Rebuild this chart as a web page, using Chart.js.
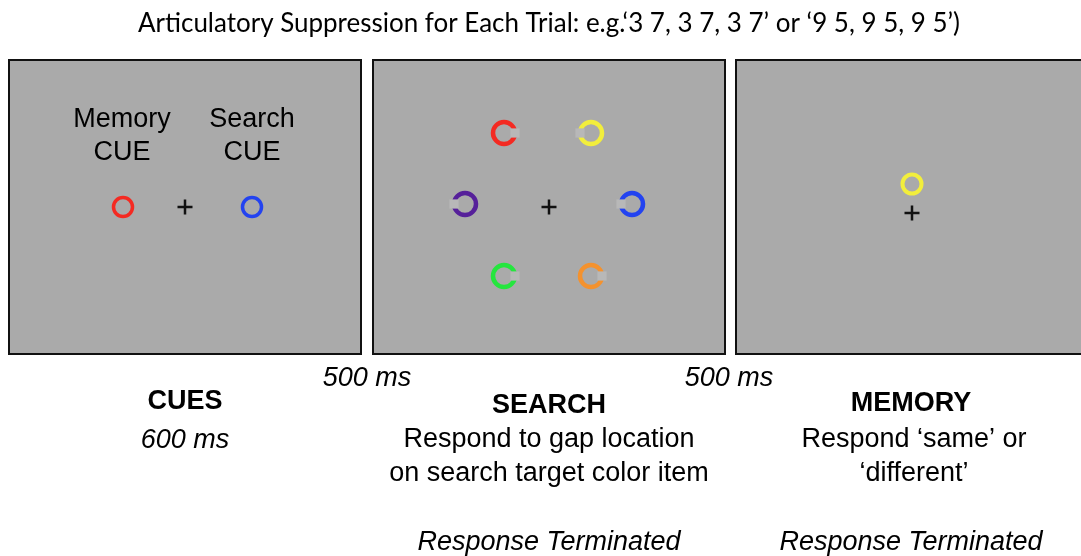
<!DOCTYPE html>
<html>
<head>
<meta charset="utf-8">
<script src="https://cdn.jsdelivr.net/npm/chart.js@4.4.1/dist/chart.umd.min.js"></script>
<style>
  html, body { margin: 0; padding: 0; background: #ffffff; }
  #wrap { width: 1081px; height: 556px; position: relative; }
</style>
</head>
<body>
<div id="wrap"><canvas id="trialChart"></canvas></div>
<script>
// --- data (page pixel units) ---
const stageNames = ['CUES', 'SEARCH', 'MEMORY'];
const panelLeft = [9, 373, 736];
const panelRight = [361, 725, 1095];
const panelTop = 60;
const panelBottom = 354;

const cueX = [123, 252];
const cueY = [207, 207];
const cueColors = ['#f42a22', '#2343f0'];

const searchX = [504, 591, 465, 632, 504, 591];
const searchY = [133, 133, 204, 204, 276, 276];
const searchColors = ['#f42a22', '#f2ee3c', '#56209a', '#2343f0', '#25e63e', '#f4922e'];
const gapSide = [1, -1, -1, -1, 1, 1]; // +1 gap on right, -1 gap on left

const memoryX = [912];
const memoryY = [184];
const memoryColors = ['#f2ee3c'];

const fixX = [185, 549, 912];
const fixY = [207, 207, 213];

const titleText = 'Articulatory Suppression for Each Trial: e.g.\u20183 7, 3 7, 3 7\u2019 or \u20189 5, 9 5, 9 5\u2019)';
const isiLabels = ['500 ms', '500 ms'];
const stageDurations = ['600 ms', '', ''];
const stageTasks = [[], ['Respond to gap location', 'on search target color item'], ['Respond \u2018same\u2019 or', '\u2018different\u2019']];
const stageEnds = ['', 'Response Terminated', 'Response Terminated'];

const pts = (xs, ys) => xs.map((x, i) => ({ x: x, y: ys[i] }));

// panels + all text drawn through the chart's scales
const diagramPlugin = {
    id: 'diagram',
    beforeDatasetsDraw(chart) {
        const { ctx, scales: { x, y } } = chart;
        ctx.save();
        for (let i = 0; i < panelLeft.length; i++) {
            const l = x.getPixelForValue(panelLeft[i]);
            const r = x.getPixelForValue(panelRight[i]);
            const t = y.getPixelForValue(panelTop);
            const b = y.getPixelForValue(panelBottom);
            ctx.fillStyle = '#aaaaaa';
            ctx.fillRect(l, t, r - l, b - t);
            ctx.strokeStyle = '#111111';
            ctx.lineWidth = 2;
            ctx.strokeRect(l, t, r - l, b - t);
        }
        ctx.restore();
    },
    afterDatasetsDraw(chart) {
        const { ctx, scales: { x, y } } = chart;
        const text = (s, vx, vy, font, maxW) => {
            ctx.font = font;
            if (maxW) ctx.fillText(s, x.getPixelForValue(vx), y.getPixelForValue(vy), maxW);
            else ctx.fillText(s, x.getPixelForValue(vx), y.getPixelForValue(vy));
        };
        ctx.save();
        ctx.fillStyle = '#000000';
        ctx.textAlign = 'center';
        ctx.textBaseline = 'middle';

        text(titleText, 549, 24, '26px Lato, "Open Sans", sans-serif', 822);

        // cue labels inside first panel
        const sans = '"Liberation Sans", Arial, Helvetica, sans-serif';
        text('Memory', 122, 120, '27px ' + sans);
        text('CUE', 122, 153, '27px ' + sans);
        text('Search', 252, 120, '27px ' + sans);
        text('CUE', 252, 153, '27px ' + sans);

        // timing between panels
        text(isiLabels[0], 367, 378, 'italic 27px ' + sans);
        text(isiLabels[1], 729, 378, 'italic 27px ' + sans);

        // stage captions
        const centers = [185, 549, 911];
        const nameY = [402, 406, 404];
        stageNames.forEach((name, i) => {
            text(name, centers[i], nameY[i], 'bold 27px ' + sans);
            if (stageDurations[i]) text(stageDurations[i], centers[i], 440, 'italic 27px ' + sans);
            stageTasks[i].forEach((line, j) => {
                text(line, centers[i] + (i === 2 ? 3 : 0), 440 + j * 34, '27px ' + sans);
            });
            if (stageEnds[i]) text(stageEnds[i], centers[i], 542, 'italic 27px ' + sans);
        });
        ctx.restore();
    }
};

const gapPoints = searchX.map((sx, i) => ({ x: sx + gapSide[i] * 11, y: searchY[i] }));

new Chart(document.getElementById('trialChart').getContext('2d'), {
    type: 'scatter',
    data: {
        datasets: [
            {
                label: 'Cue rings',
                data: pts(cueX, cueY),
                pointStyle: 'circle',
                pointRadius: 9.5,
                borderWidth: 3.5,
                borderColor: cueColors,
                backgroundColor: 'rgba(0,0,0,0)',
                order: 3
            },
            {
                label: 'Search rings',
                data: pts(searchX, searchY),
                pointStyle: 'circle',
                pointRadius: 11,
                borderWidth: 4.5,
                borderColor: searchColors,
                backgroundColor: 'rgba(0,0,0,0)',
                order: 3
            },
            {
                label: 'Memory probe',
                data: pts(memoryX, memoryY),
                pointStyle: 'circle',
                pointRadius: 9.5,
                borderWidth: 4,
                borderColor: memoryColors,
                backgroundColor: 'rgba(0,0,0,0)',
                order: 3
            },
            {
                label: 'Gaps',
                data: gapPoints,
                pointStyle: 'rect',
                pointRadius: 6.5,
                borderWidth: 0,
                backgroundColor: '#b8b8b8',
                order: 1
            },
            {
                label: 'Fixation',
                data: pts(fixX, fixY),
                pointStyle: 'cross',
                pointRadius: 7.5,
                borderWidth: 2.5,
                borderColor: '#111111',
                order: 2
            }
        ]
    },
    options: {
        responsive: true,
        maintainAspectRatio: false,
        animation: false,
        layout: { padding: 0, autoPadding: false },
        scales: {
            x: { type: 'linear', min: 0, max: 1081, display: false },
            y: { type: 'linear', min: 0, max: 556, reverse: true, display: false }
        },
        plugins: {
            legend: { display: false },
            tooltip: { enabled: false }
        },
        elements: { point: { hoverRadius: 0 } }
    },
    plugins: [diagramPlugin]
});
</script>
</body>
</html>
